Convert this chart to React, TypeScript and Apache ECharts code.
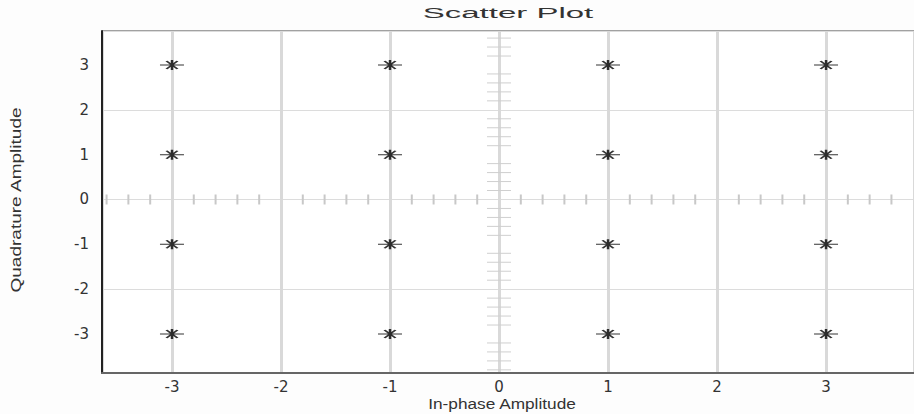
import React, { useEffect, useRef } from "react";
import * as echarts from "echarts";

const inPhaseLevels = [-3, -1, 1, 3];
const quadratureLevels = [3, 1, -1, -3];
const xTickLabels = [-3, -2, -1, 0, 1, 2, 3];
const yTickLabels = [-3, -2, -1, 0, 1, 2, 3];
const xMinorTicks = [
  -3.6, -3.4, -3.2, -2.8, -2.6, -2.4, -2.2, -1.8, -1.6, -1.4, -1.2, -0.8, -0.6, -0.4, -0.2,
  0.2, 0.4, 0.6, 0.8, 1.2, 1.4, 1.6, 1.8, 2.2, 2.4, 2.6, 2.8, 3.2, 3.4, 3.6,
];
const yMinorTicks = [
  3.6, 3.4, 3.2, 2.8, 2.6, 2.4, 2.2, 1.8, 1.6, 1.4, 1.2, 0.8, 0.6, 0.4, 0.2,
  -0.2, -0.4, -0.6, -0.8, -1.2, -1.4, -1.6, -1.8, -2.2, -2.4, -2.6, -2.8, -3.2, -3.4, -3.6, -3.8,
];
const titleText = "Scatter Plot";
const xName = "In-phase Amplitude";
const yName = "Quadrature Amplitude";

const FONT = "'Liberation Sans', Arial, sans-serif";

export default function App() {
  const ref = useRef<HTMLDivElement>(null);
  useEffect(() => {
    if (!ref.current) return;
    const chart = echarts.init(ref.current, null, { renderer: "svg" });
    const points: number[][] = [];
    quadratureLevels.forEach((q) => inPhaseLevels.forEach((i) => points.push([i, q])));

    chart.setOption({
      animation: false,
      backgroundColor: "#fdfdfd",
      grid: {
        left: 102,
        right: -1,
        top: 31,
        bottom: 41,
        show: true,
        borderColor: "#444",
        borderWidth: 1,
        backgroundColor: "#ffffff",
      },
      xAxis: {
        type: "value",
        min: -3.642,
        max: 3.807,
        axisLine: { show: true, onZero: false, lineStyle: { color: "#666", width: 2 } },
        axisTick: { show: false },
        axisLabel: {
          customValues: xTickLabels,
          margin: 6,
          fontSize: 15,
          fontFamily: "'DejaVu Sans', sans-serif",
          color: "#333",
        },
        splitLine: { show: true, lineStyle: { color: "#d9d9d9", width: 3 } },
      },
      yAxis: {
        type: "value",
        min: -3.87,
        max: 3.758,
        axisLine: { show: true, onZero: false, lineStyle: { color: "#222", width: 2 } },
        axisTick: { show: false },
        axisLabel: {
          customValues: yTickLabels,
          margin: 13,
          fontSize: 15,
          fontFamily: "'DejaVu Sans', sans-serif",
          color: "#333",
        },
        splitLine: { show: true, lineStyle: { color: "#dcdcdc", width: 1 } },
      },
      graphic: [
        {
          type: "text",
          x: 508,
          y: 13,
          scaleX: 2.2,
          style: {
            text: titleText,
            font: `15px ${FONT}`,
            fill: "#333",
            align: "center",
            verticalAlign: "middle",
          },
        },
        {
          type: "text",
          x: 502,
          y: 403,
          scaleX: 1.15,
          style: {
            text: xName,
            font: `15px ${FONT}`,
            fill: "#333",
            align: "center",
            verticalAlign: "middle",
          },
        },
        {
          type: "text",
          x: 16,
          y: 200,
          rotation: Math.PI / 2,
          scaleX: 1.36,
          style: {
            text: yName,
            font: `14px 'Liberation Sans Narrow', ${FONT}`,
            fill: "#333",
            align: "center",
            verticalAlign: "middle",
          },
        },
      ],
      series: [
        {
          type: "custom",
          clip: true,
          silent: true,
          data: xMinorTicks.map((v) => [v, 0]),
          renderItem: (params: any, api: any) => {
            const p = api.coord([api.value(0), api.value(1)]);
            return {
              type: "line",
              shape: { x1: p[0], y1: p[1] - 5, x2: p[0], y2: p[1] + 5 },
              style: { stroke: "#c8c8c8", lineWidth: 2 },
            };
          },
          z: 1,
        },
        {
          type: "custom",
          clip: true,
          silent: true,
          data: yMinorTicks.map((v) => [0, v]),
          renderItem: (params: any, api: any) => {
            const p = api.coord([api.value(0), api.value(1)]);
            return {
              type: "line",
              shape: { x1: p[0] - 12, y1: p[1], x2: p[0] + 12, y2: p[1] },
              style: { stroke: "#cfcfcf", lineWidth: 1 },
            };
          },
          z: 1,
        },
        {
          type: "scatter",
          data: points,
          symbol: "path://M0,5L24,5M12,0L12,10M6.5,1L17.5,9M6.5,9L17.5,1",
          symbolSize: [24, 10],
          itemStyle: { color: "transparent", borderColor: "#000", borderWidth: 1.6 },
          z: 5,
        },
      ],
    });
    return () => chart.dispose();
  }, []);
  return (
    <div
      ref={ref}
      style={{ position: "fixed", left: 0, top: 0, width: 914, height: 414 }}
    />
  );
}
